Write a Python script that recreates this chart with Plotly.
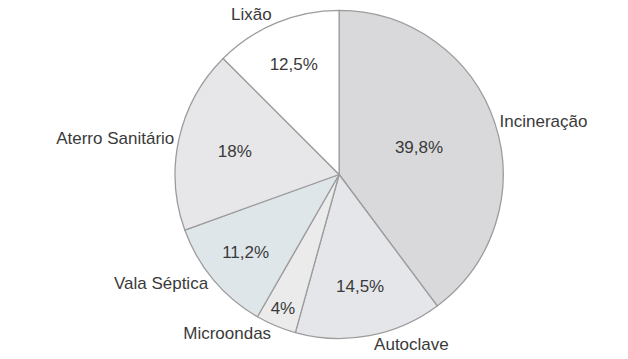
import plotly.graph_objects as go

labels = ["Incineração", "Autoclave", "Microondas", "Vala Séptica", "Aterro Sanitário", "Lixão"]
values = [39.8, 14.5, 4, 11.2, 18, 12.5]
colors = ["#d9d9dc", "#e4e6e9", "#ebebeb", "#dfe6ea", "#e7e6e9", "#ffffff"]

pct_text = [(f"{v:g}%").replace(".", ",") for v in values]

dom = dict(x=[0.27, 0.81], y=[0.03, 0.97])
FONT = "Liberation Sans, Arial, sans-serif"

fig = go.Figure()
fig.add_trace(go.Pie(
    labels=labels, values=values, text=pct_text,
    texttemplate="%{text}", textposition="inside",
    insidetextorientation="horizontal",
    sort=False, direction="clockwise", rotation=0,
    marker=dict(colors=colors, line=dict(color="#9c9c9c", width=1.3)),
    textfont=dict(family=FONT, size=17, color="#3a3a3a"),
    domain=dom, showlegend=False, hoverinfo="label+percent",
))
fig.add_trace(go.Pie(
    labels=labels, values=values,
    texttemplate="%{label}", textposition="outside",
    sort=False, direction="clockwise", rotation=0,
    marker=dict(colors=["rgba(0,0,0,0)"] * len(values), line=dict(width=0)),
    outsidetextfont=dict(family=FONT, size=17, color="#3a3a3a"),
    domain=dom, showlegend=False, hoverinfo="skip",
))
fig.update_layout(
    width=628, height=359,
    margin=dict(l=0, r=0, t=0, b=0),
    paper_bgcolor="white", plot_bgcolor="white",
)
fig.write_html("out.html")
